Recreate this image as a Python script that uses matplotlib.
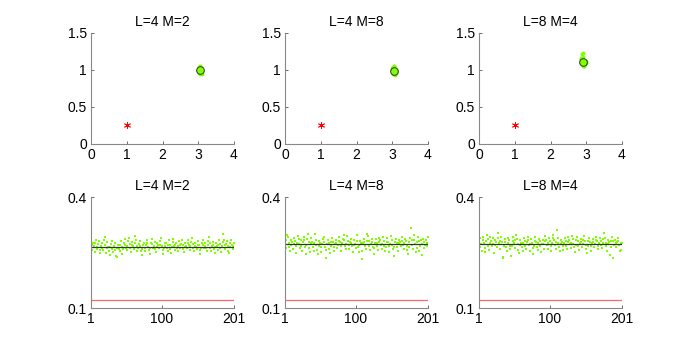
import numpy as np
import matplotlib
matplotlib.use("Agg")
import matplotlib.pyplot as plt

plt.rcParams['font.family'] = ['Liberation Sans', 'DejaVu Sans']

titles = ["L=4 M=2", "L=4 M=8", "L=8 M=4"]

# top row: red star (true point), green cloud of estimates, black circle = mean
star_x = [1.0, 1.0, 1.0]
star_y = [0.25, 0.25, 0.25]

cloud_x = [
    [3.01, 3.05, 3.09, 3.03, 3.07, 3.00, 3.10, 3.05, 3.02, 3.08, 3.06, 3.03,
     3.05, 3.11, 2.99, 3.07, 3.03, 3.09, 3.05, 3.01, 3.10, 2.99, 3.05, 3.07],
    [3.00, 3.05, 3.09, 3.03, 3.07, 3.01, 3.09, 3.05, 2.99, 3.11, 3.06, 3.03,
     3.05, 3.10, 3.01, 3.07, 3.03, 3.09, 3.00, 3.07, 3.11, 2.98, 3.05, 3.08],
    [2.89, 2.94, 2.86, 2.96, 2.91, 2.84, 2.99, 2.92, 2.88, 2.95, 2.91, 2.85,
     2.98, 2.89, 2.94, 2.86, 2.92, 2.97, 2.89, 2.94, 2.84, 3.00, 2.90, 2.95],
]
cloud_y = [
    [1.00, 0.97, 1.01, 1.04, 0.96, 1.00, 0.99, 0.95, 1.03, 1.00, 0.97, 1.01,
     1.05, 0.99, 0.98, 1.03, 0.96, 0.99, 1.00, 1.02, 0.95, 1.00, 1.06, 0.96],
    [0.99, 0.96, 1.01, 1.04, 0.95, 1.00, 0.98, 0.94, 1.03, 0.99, 0.96, 1.01,
     1.05, 0.98, 0.95, 1.02, 0.99, 0.97, 1.00, 1.02, 0.96, 0.99, 1.06, 0.93],
    [1.12, 1.08, 1.15, 1.10, 1.05, 1.13, 1.09, 1.18, 1.11, 1.07, 1.14, 1.10,
     1.12, 1.21, 1.06, 1.16, 1.09, 1.11, 1.13, 1.08, 1.11, 1.10, 1.23, 1.06],
]
mean_x = [3.05, 3.05, 2.92]
mean_y = [1.00, 0.99, 1.11]

# bottom row: 201 samples per panel
samples = np.arange(1, 202)
vals_a = [
    0.279, 0.271, 0.258, 0.275, 0.267, 0.252, 0.277, 0.283, 0.264, 0.260,
    0.273, 0.281, 0.256, 0.250, 0.268, 0.276, 0.262, 0.257, 0.285, 0.292,
    0.270, 0.248, 0.261, 0.278, 0.266, 0.254, 0.244, 0.264, 0.273, 0.280,
    0.260, 0.251, 0.267, 0.275, 0.256, 0.240, 0.238, 0.263, 0.271, 0.259,
    0.253, 0.269, 0.282, 0.265, 0.247, 0.259, 0.276, 0.286, 0.271, 0.261,
    0.257, 0.267, 0.280, 0.289, 0.273, 0.263, 0.251, 0.269, 0.278, 0.268,
    0.259, 0.275, 0.294, 0.283, 0.267, 0.255, 0.261, 0.273, 0.282, 0.267,
    0.253, 0.242, 0.259, 0.271, 0.277, 0.263, 0.255, 0.269, 0.284, 0.276,
    0.265, 0.257, 0.247, 0.263, 0.276, 0.287, 0.273, 0.261, 0.267, 0.279,
    0.259, 0.251, 0.265, 0.277, 0.271, 0.261, 0.269, 0.281, 0.290, 0.267,
    0.257, 0.246, 0.261, 0.275, 0.267, 0.277, 0.263, 0.255, 0.271, 0.283,
    0.269, 0.259, 0.249, 0.265, 0.279, 0.287, 0.267, 0.257, 0.269, 0.275,
    0.261, 0.253, 0.267, 0.281, 0.271, 0.263, 0.273, 0.285, 0.269, 0.259,
    0.251, 0.265, 0.277, 0.267, 0.261, 0.275, 0.283, 0.271, 0.257, 0.267,
    0.279, 0.289, 0.273, 0.261, 0.253, 0.267, 0.277, 0.265, 0.259, 0.271,
    0.281, 0.269, 0.257, 0.247, 0.263, 0.275, 0.285, 0.271, 0.261, 0.267,
    0.277, 0.263, 0.253, 0.269, 0.281, 0.293, 0.275, 0.263, 0.255, 0.267,
    0.279, 0.271, 0.259, 0.249, 0.265, 0.277, 0.267, 0.257, 0.271, 0.283,
    0.273, 0.261, 0.251, 0.267, 0.279, 0.299, 0.285, 0.269, 0.259, 0.273,
    0.281, 0.267, 0.255, 0.249, 0.265, 0.275, 0.285, 0.271, 0.259, 0.267,
    0.277,
]
vals_b = [
    0.270, 0.283, 0.262, 0.297, 0.291, 0.276, 0.265, 0.255, 0.270, 0.284,
    0.278, 0.260, 0.272, 0.290, 0.280, 0.267, 0.249, 0.275, 0.294, 0.286,
    0.273, 0.262, 0.283, 0.268, 0.255, 0.278, 0.292, 0.283, 0.265, 0.247,
    0.270, 0.287, 0.299, 0.279, 0.262, 0.252, 0.275, 0.289, 0.278, 0.266,
    0.255, 0.276, 0.299, 0.284, 0.270, 0.257, 0.245, 0.268, 0.281, 0.275,
    0.264, 0.252, 0.273, 0.286, 0.292, 0.278, 0.265, 0.236, 0.257, 0.272,
    0.283, 0.275, 0.260, 0.249, 0.268, 0.279, 0.289, 0.278, 0.265, 0.254,
    0.273, 0.284, 0.276, 0.262, 0.270, 0.281, 0.291, 0.279, 0.267, 0.255,
    0.275, 0.286, 0.296, 0.283, 0.268, 0.259, 0.273, 0.294, 0.281, 0.270,
    0.260, 0.278, 0.287, 0.276, 0.267, 0.252, 0.271, 0.283, 0.273, 0.262,
    0.297, 0.280, 0.265, 0.251, 0.270, 0.281, 0.275, 0.232, 0.255, 0.276,
    0.286, 0.278, 0.267, 0.259, 0.280, 0.301, 0.294, 0.281, 0.268, 0.257,
    0.272, 0.287, 0.278, 0.265, 0.247, 0.262, 0.275, 0.286, 0.276, 0.267,
    0.257, 0.278, 0.289, 0.283, 0.270, 0.260, 0.273, 0.291, 0.281, 0.268,
    0.255, 0.265, 0.279, 0.289, 0.278, 0.267, 0.252, 0.273, 0.294, 0.283,
    0.270, 0.259, 0.240, 0.265, 0.279, 0.287, 0.276, 0.265, 0.255, 0.275,
    0.284, 0.278, 0.267, 0.291, 0.281, 0.270, 0.260, 0.276, 0.286, 0.280,
    0.268, 0.257, 0.247, 0.265, 0.278, 0.289, 0.315, 0.283, 0.270, 0.260,
    0.297, 0.284, 0.273, 0.251, 0.263, 0.278, 0.291, 0.281, 0.255, 0.268,
    0.283, 0.242, 0.273, 0.287, 0.278, 0.262, 0.270, 0.283, 0.275, 0.267,
    0.292,
]
vals_c = [
    0.278, 0.265, 0.289, 0.272, 0.255, 0.283, 0.292, 0.275, 0.262, 0.252,
    0.280, 0.296, 0.286, 0.268, 0.257, 0.276, 0.291, 0.281, 0.267, 0.288,
    0.273, 0.250, 0.270, 0.284, 0.278, 0.264, 0.303, 0.290, 0.275, 0.260,
    0.281, 0.292, 0.279, 0.238, 0.234, 0.268, 0.286, 0.278, 0.265, 0.254,
    0.275, 0.289, 0.283, 0.268, 0.259, 0.241, 0.267, 0.280, 0.291, 0.276,
    0.262, 0.283, 0.298, 0.286, 0.272, 0.257, 0.249, 0.270, 0.284, 0.276,
    0.265, 0.254, 0.275, 0.289, 0.280, 0.268, 0.259, 0.278, 0.292, 0.283,
    0.270, 0.255, 0.273, 0.286, 0.276, 0.263, 0.246, 0.268, 0.281, 0.291,
    0.278, 0.265, 0.257, 0.275, 0.286, 0.280, 0.267, 0.252, 0.272, 0.283,
    0.273, 0.260, 0.281, 0.294, 0.284, 0.270, 0.259, 0.276, 0.289, 0.280,
    0.267, 0.255, 0.275, 0.288, 0.297, 0.283, 0.270, 0.260, 0.278, 0.311,
    0.289, 0.276, 0.265, 0.254, 0.273, 0.284, 0.278, 0.267, 0.257, 0.275,
    0.288, 0.280, 0.268, 0.259, 0.278, 0.291, 0.283, 0.272, 0.262, 0.276,
    0.295, 0.286, 0.273, 0.264, 0.252, 0.270, 0.283, 0.292, 0.280, 0.268,
    0.257, 0.275, 0.286, 0.278, 0.265, 0.273, 0.284, 0.294, 0.281, 0.270,
    0.260, 0.249, 0.268, 0.280, 0.289, 0.278, 0.267, 0.255, 0.275, 0.286,
    0.278, 0.265, 0.272, 0.284, 0.292, 0.280, 0.268, 0.259, 0.276, 0.289,
    0.281, 0.270, 0.262, 0.275, 0.286, 0.303, 0.289, 0.276, 0.267, 0.254,
    0.273, 0.284, 0.278, 0.244, 0.265, 0.280, 0.291, 0.281, 0.236, 0.270,
    0.283, 0.275, 0.265, 0.278, 0.289, 0.280, 0.270, 0.255, 0.275, 0.257,
    0.276,
]
sample_vals = [vals_a, vals_b, vals_c]
mean_level = [0.265, 0.273, 0.273]
true_level = [0.122, 0.122, 0.122]

GREEN = (0.5, 1.0, 0.0)
SPINE = '#888888'

fig = plt.figure(figsize=(6.92, 3.47), dpi=100)
lefts = [91 / 692, 285 / 692, 479 / 692]
w = 143 / 692
h = 111 / 347


def style(ax):
    for s in ['top', 'right']:
        ax.spines[s].set_visible(False)
    for s in ['left', 'bottom']:
        ax.spines[s].set_color(SPINE)
        ax.spines[s].set_linewidth(0.8)
    ax.tick_params(direction='in', length=2, width=0.6, color='#555555',
                   labelsize=10, pad=3)


for i in range(3):
    ax = fig.add_axes([lefts[i], 1 - 144 / 347, w, h])
    ax.plot(cloud_x[i], cloud_y[i], 'o', color=GREEN, ms=2.8, mec=GREEN, mew=0)
    ax.plot(mean_x[i], mean_y[i], 'o', mfc='none', mec='#333333', ms=5.5, mew=0.7)
    ax.plot(star_x[i], star_y[i], marker=(6, 2, 0), color='red', ms=5, mew=0.6,
            ls='none')
    ax.set_xlim(0, 4)
    ax.set_ylim(0, 1.5)
    ax.set_xticks([0, 1, 2, 3, 4])
    ax.set_yticks([0, 0.5, 1, 1.5])
    ax.set_yticklabels(['0', '0.5', '1', '1.5'])
    ax.set_title(titles[i], fontsize=10, pad=5)
    style(ax)

    bx = fig.add_axes([lefts[i], 1 - 308 / 347, w, h])
    bx.plot(samples, sample_vals[i], 's', color=GREEN, ms=2.0, mew=0)
    bx.axhline(mean_level[i], color='#333333', lw=0.9)
    bx.axhline(true_level[i], color=(1.0, 0.4, 0.4), lw=0.9)
    bx.set_xlim(1, 201)
    bx.set_ylim(0.1, 0.4)
    bx.set_xticks([1, 100, 201])
    bx.set_yticks([0.1, 0.4])
    bx.set_yticklabels(['0.1', '0.4'])
    bx.set_title(titles[i], fontsize=10, pad=5)
    style(bx)

fig.savefig('out.png', dpi=100)
